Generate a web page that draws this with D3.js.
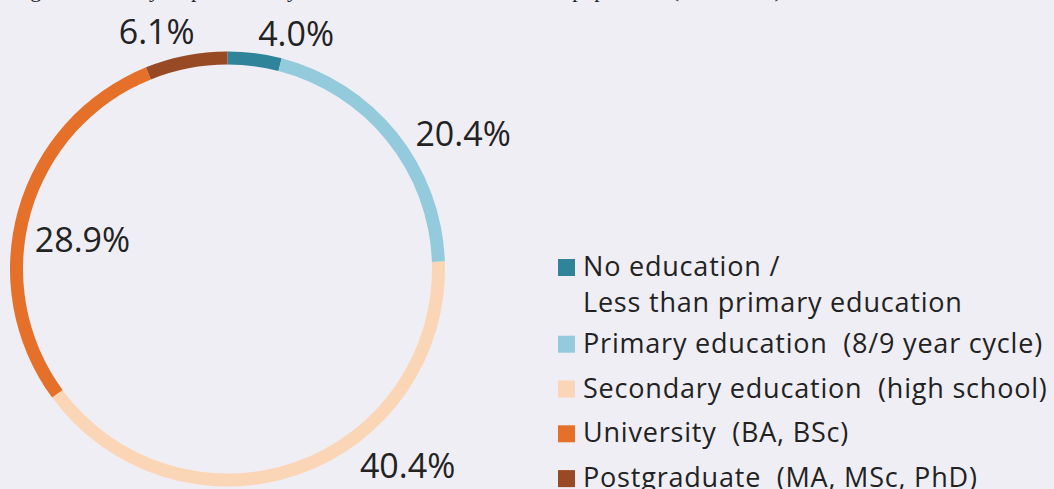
<!DOCTYPE html>
<html>
<head>
<meta charset="utf-8">
<script src="https://cdn.jsdelivr.net/npm/d3@7"></script>
<style>
  body { margin: 0; background: #f0eef5; }
  svg { display: block; }
  .title { font-family: "Liberation Serif", serif; font-size: 22px; fill: #222; }
  .pct { font-family: "Open Sans", sans-serif; font-size: 34px; fill: #222; }
  .legend text { font-family: "Open Sans", sans-serif; font-size: 27px; letter-spacing: 0.8px; fill: #222; }
</style>
</head>
<body>
<script>
//chart data
var categories = ["No education /\nLess than primary education",
    "Primary education  (8/9 year cycle)",
    "Secondary education  (high school)",
    "University  (BA, BSc)",
    "Postgraduate  (MA, MSc, PhD)"];
var shares = [4.0, 20.4, 40.4, 28.9, 6.1];
var colors = ["#2f8499", "#94cbdc", "#fbd6b6", "#e4702a", "#974a23"];

//where each percentage label sits: [angle from top in degrees, distance from centre]
var labelPlace = [[16.2, 246], [60, 272], [137.4, 266], [281.5, 148], [343.4, 248]];

var width = 1054,
    height = 489;

var svg = d3.select("body")
    .append("svg")
    .attr("width", width)
    .attr("height", height);

//title, mostly cut off at the top edge
svg.append("text")
    .attr("class", "title")
    .attr("x", 12)
    .attr("y", -3.5)
    .text("Figure 3: Survey respondents by level of education of the adult population (2018-2019)");

//ring
var cx = 227.5, cy = 269,
    outer = 217.5, inner = 204.5;

var pie = d3.pie()
    .sort(null)
    .value(function(d){ return d; });

var arc = d3.arc()
    .innerRadius(inner)
    .outerRadius(outer);

var ring = svg.append("g")
    .attr("transform", "translate(" + cx + "," + cy + ")");

ring.selectAll(".slice")
    .data(pie(shares))
    .enter()
    .append("path")
    .attr("class", "slice")
    .attr("d", arc)
    .attr("fill", function(d, i){ return colors[i]; });

//percentage labels
ring.selectAll(".pct")
    .data(shares)
    .enter()
    .append("text")
    .attr("class", "pct")
    .attr("text-anchor", "middle")
    .attr("dominant-baseline", "central")
    .attr("transform", function(d, i){
        var p = d3.pointRadial(labelPlace[i][0] * Math.PI / 180, labelPlace[i][1]);
        return "translate(" + p[0] + "," + p[1] + ")";
    })
    .text(function(d){ return d.toFixed(1) + "%"; });

//legend
var legend = svg.append("g")
    .attr("class", "legend")
    .attr("transform", "translate(558,276)");

var lineStep = 35.7,
    itemStep = 44.8;

var rowY = 0;
categories.forEach(function(c, i){
    var lines = c.split("\n");
    var row = legend.append("g")
        .attr("transform", "translate(0," + rowY + ")");
    row.append("rect")
        .attr("x", 0)
        .attr("y", -17)
        .attr("width", 17)
        .attr("height", 17)
        .attr("fill", colors[i]);
    var t = row.append("text")
        .attr("x", 25)
        .attr("y", 0)
        .attr("xml:space", "preserve");
    lines.forEach(function(l, j){
        t.append("tspan")
            .attr("x", 25)
            .attr("dy", j == 0 ? 0 : lineStep)
            .text(l);
    });
    rowY += lines.length > 1 ? lineStep + 41 : itemStep;
});
</script>
</body>
</html>
